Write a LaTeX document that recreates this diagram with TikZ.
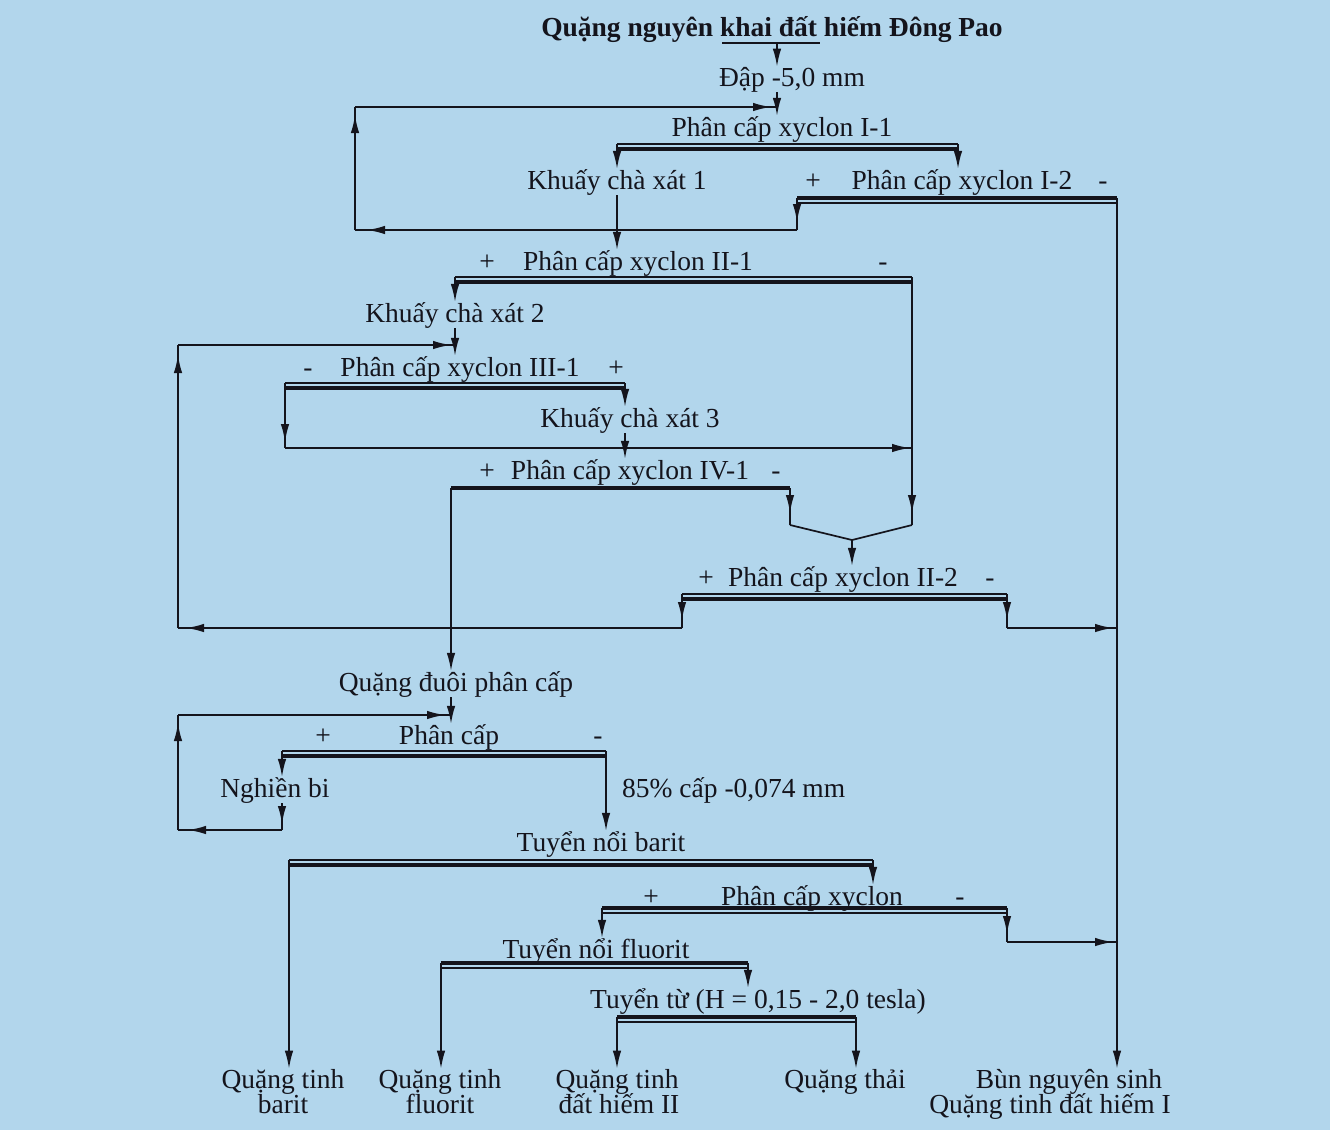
\documentclass[tikz,border=0pt]{standalone}
\usepackage{fontspec}
\setmainfont{Liberation Serif}
\usetikzlibrary{arrows.meta,decorations.markings}
\definecolor{bg}{RGB}{178,214,236}
\definecolor{ink}{RGB}{20,20,28}
\tikzset{
  lbl/.style={inner sep=0pt, anchor=base, text=ink, font=\fontsize{27.5}{27.5}\selectfont},
  ln/.style={draw=ink, line width=1.7pt},
  tipA/.tip={Latex[length=18pt,width=8.5pt]},
  ea/.style={ln,-tipA},
  ma/.style={ln,postaction={decorate},decoration={markings,mark=at position #1 with {\arrow{tipA}}}},
  thinl/.style={draw=ink,line width=1.4pt},
  thickl/.style={draw=ink,line width=3.6pt},
  heavy/.style={draw=ink,line width=4.5pt},
}
\begin{document}
\begin{tikzpicture}[x=1pt,y=-1pt]
\fill[bg] (0,0) rectangle (1330,1130);
\useasboundingbox (0,0) rectangle (1330,1130);

% ---------- texts ----------
\node[lbl,font=\fontsize{27.5}{27.5}\selectfont\bfseries] (t0) at (772,36) {Quặng nguyên khai đất hiếm Đông Pao};
\node[lbl] (n1) at (792,86) {Đập -5,0 mm};
\node[lbl] (n2) at (782,136) {Phân cấp xyclon I-1};
\node[lbl] (n3) at (617,189) {Khuấy chà xát 1};
\node[lbl] (n4p) at (813,189) {+};
\node[lbl] (n4) at (962,189) {Phân cấp xyclon I-2};
\node[lbl] (n4m) at (1103,189) {-};
\node[lbl] (n5p) at (487,270) {+};
\node[lbl] (n5) at (638,270) {Phân cấp xyclon II-1};
\node[lbl] (n5m) at (883,270) {-};
\node[lbl] (n6) at (455,322) {Khuấy chà xát 2};
\node[lbl] (n7m) at (308,376) {-};
\node[lbl] (n7) at (460,376) {Phân cấp xyclon III-1};
\node[lbl] (n7p) at (616,376) {+};
\node[lbl] (n8) at (630,427) {Khuấy chà xát 3};
\node[lbl] (n9p) at (487,479) {+};
\node[lbl] (n9) at (630,479) {Phân cấp xyclon IV-1};
\node[lbl] (n9m) at (776,479) {-};
\node[lbl] (n10p) at (706,586) {+};
\node[lbl] (n10) at (843,586) {Phân cấp xyclon II-2};
\node[lbl] (n10m) at (990,586) {-};
\node[lbl] (n11) at (456,691) {Quặng đuôi phân cấp};
\node[lbl] (n12p) at (323,744) {+};
\node[lbl] (n12) at (449,744) {Phân cấp};
\node[lbl] (n12m) at (598,744) {-};
\node[lbl] (n13) at (275,797) {Nghiền bi};
\node[lbl,anchor=base west] (n14) at (622,797) {85\% cấp -0,074 mm};
\node[lbl] (n15) at (601,851) {Tuyển nổi barit};
\node[lbl] (n16p) at (651,905) {+};
\node[lbl] (n16) at (812,905) {Phân cấp xyclon};
\node[lbl] (n16m) at (960,905) {-};
\node[lbl] (n17) at (596,958) {Tuyển nổi fluorit};
\node[lbl] (n18) at (758,1008) {Tuyển từ (H = 0,15 - 2,0 tesla)};
\node[lbl] (b1) at (283,1088) {Quặng tinh};
\node[lbl] (b1x) at (283,1113) {barit};
\node[lbl] (b2) at (440,1088) {Quặng tinh};
\node[lbl] (b2x) at (440,1113) {fluorit};
\node[lbl] (b3) at (617,1088) {Quặng tinh};
\node[lbl] (b3x) at (619,1113) {đất hiếm II};
\node[lbl] (b4) at (845,1088) {Quặng thải};
\node[lbl] (b5) at (1069,1088) {Bùn nguyên sinh};
\node[lbl] (b5x) at (1050,1113) {Quặng tinh đất hiếm I};

% ---------- title -> crushing -> I-1 ----------
\coordinate (u1) at (722,43); \coordinate (u2) at (820,43); \coordinate (um) at (777,43);
\coordinate (j1) at (777,107);
\draw[ln] (u1) -- (u2);
\draw[ea] (um) -- (um |- n1.north);
\draw[ea] (n1.south -| um) -- (um |- n2.north);

% ---------- I-1 ----------
\coordinate (d1L) at (617,144); \coordinate (d1R) at (958,144);
\draw[thinl] (d1L) -- (d1R);
\draw[thickl] ([yshift=-5pt]d1L) -- ([yshift=-5pt]d1R);
\draw[ea] (d1L) -- (d1L |- n3.north);
\draw[ea] (d1R) -- (d1R |- n4.north);
\draw[ea] (n3.south -| d1L) -- (d1L |- n5.north);

% ---------- I-2 and loop 1 ----------
\coordinate (d2L) at (797,198); \coordinate (d2R) at (1117,198);
\draw[thickl] (d2L) -- (d2R);
\draw[thinl] ([yshift=-5pt]d2L) -- ([yshift=-5pt]d2R);
\coordinate (c1) at (797,230); \coordinate (c2) at (355,230); \coordinate (c3) at (355,107);
\draw[ma=-8pt] (d2L) -- (c1);
\draw[ma=-12pt] (c1) -- (c2);
\draw[ma=-8pt] (c2) -- (c3);
\draw[ma=-6pt] (c3) -- (j1);
\draw[ea] (d2R) -- (d2R |- b5.north);

% ---------- II-1 ----------
\coordinate (d3L) at (455,277); \coordinate (d3R) at (912,277);
\draw[thinl] (d3L) -- (d3R);
\draw[thickl] ([yshift=-5pt]d3L) -- ([yshift=-5pt]d3R);
\draw[ea] (d3L) -- (d3L |- n6.north);
\coordinate (v1) at (912,525); \coordinate (v0) at (852,540); \coordinate (v2) at (790,525);
\draw[ma=-12pt] (d3R) -- (v1);
\draw[ln] (v1) -- (v0);
\draw[ea] (n6.south -| d3L) -- (d3L |- n7.north);

% ---------- loop 2 ----------
\coordinate (L2a) at (178,628); \coordinate (L2b) at (178,345); \coordinate (L2c) at (455,345);
\draw[ma=-10pt] (L2a) -- (L2b);
\draw[ma=-4pt] (L2b) -- (L2c);

% ---------- III-1 ----------
\coordinate (d4L) at (285,383); \coordinate (d4R) at (625,383);
\draw[thinl] (d4L) -- (d4R);
\draw[thickl] ([yshift=-5pt]d4L) -- ([yshift=-5pt]d4R);
\coordinate (c4) at (285,448); \coordinate (c5) at (912,448);
\draw[ma=-6pt] (d4L) -- (c4);
\draw[ma=-2pt] (c4) -- (c5);
\draw[ea] (d4R) -- (d4R |- n8.north);
\draw[ea] (n8.south -| d4R) -- (d4R |- n9.north);

% ---------- IV-1 ----------
\coordinate (d5L) at (451,488); \coordinate (d5R) at (790,488);
\draw[heavy] (d5L) -- (d5R);
\draw[ea] (d5L) -- (d5L |- n11.north);
\draw[ma=-12pt] (d5R) -- (v2);
\draw[ln] (v2) -- (v0);
\draw[ea] (v0) -- (v0 |- n10.north);

% ---------- II-2 ----------
\coordinate (d6L) at (682,594); \coordinate (d6R) at (1007,594);
\draw[thinl] (d6L) -- (d6R);
\draw[thickl] ([yshift=-5pt]d6L) -- ([yshift=-5pt]d6R);
\coordinate (c6) at (682,628); \coordinate (c7) at (1007,628); \coordinate (c8) at (1117,628);
\draw[ma=-8pt] (d6L) -- (c6);
\draw[ma=-8pt] (c6) -- (L2a);
\draw[ma=-8pt] (d6R) -- (c7);
\draw[ma=-4pt] (c7) -- (c8);

% ---------- grinding circuit ----------
\draw[ea] (n11.south -| d5L) -- (d5L |- n12.north);
\coordinate (L3a) at (178,830); \coordinate (L3b) at (178,715); \coordinate (L3c) at (451,715);
\draw[ma=-8pt] (L3a) -- (L3b);
\draw[ma=-6pt] (L3b) -- (L3c);
\coordinate (d7L) at (282,751); \coordinate (d7R) at (606,751);
\draw[thinl] (d7L) -- (d7R);
\draw[thickl] ([yshift=-5pt]d7L) -- ([yshift=-5pt]d7R);
\draw[ea] (d7L) -- (d7L |- n13.north);
\draw[ea] (d7R) -- (d7R |- n15.north);
\coordinate (c9) at (282,830);
\draw[ma=-6pt] (n13.south -| d7L) -- (c9);
\draw[ma=-10pt] (c9) -- (L3a);

% ---------- barite flotation ----------
\coordinate (d8L) at (289,860); \coordinate (d8R) at (873,860);
\draw[thinl] (d8L) -- (d8R);
\draw[thickl] ([yshift=-5pt]d8L) -- ([yshift=-5pt]d8R);
\draw[ea] (d8L) -- (d8L |- b1.north);
\draw[ea] (d8R) -- (d8R |- n16.north);

% ---------- cyclone ----------
\coordinate (d9L) at (602,908); \coordinate (d9R) at (1007,908);
\draw[thickl] (d9L) -- (d9R);
\draw[thinl] ([yshift=-5pt]d9L) -- ([yshift=-5pt]d9R);
\coordinate (c10) at (1007,942); \coordinate (c11) at (1117,942);
\draw[ea] (d9L) -- (d9L |- n17.north);
\draw[ma=-8pt] (d9R) -- (c10);
\draw[ma=-4pt] (c10) -- (c11);

% ---------- fluorite flotation ----------
\coordinate (d10L) at (441,963); \coordinate (d10R) at (748,963);
\draw[thickl] (d10L) -- (d10R);
\draw[thinl] ([yshift=-5pt]d10L) -- ([yshift=-5pt]d10R);
\draw[ea] (d10L) -- (d10L |- b2.north);
\draw[ea] (d10R) -- (d10R |- n18.north);

% ---------- magnetic separation ----------
\coordinate (d11L) at (617,1017); \coordinate (d11R) at (856,1017);
\draw[thickl] (d11L) -- (d11R);
\draw[thinl] ([yshift=-5pt]d11L) -- ([yshift=-5pt]d11R);
\draw[ea] (d11L) -- (d11L |- b3.north);
\draw[ea] (d11R) -- (d11R |- b4.north);
\end{tikzpicture}
\end{document}
